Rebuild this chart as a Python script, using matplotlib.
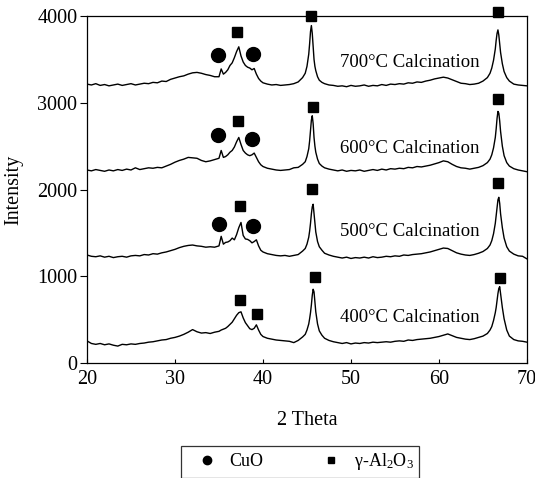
"""
XRD patterns of CuO / gamma-Al2O3 catalysts calcined at 400-700 C.
"""

import matplotlib
matplotlib.use("Agg")
import matplotlib.pyplot as plt
from matplotlib.lines import Line2D


# =============================================================
# Data
# =============================================================
two_theta = (
    [20.0, 20.5, 21.0, 21.5, 22.0, 22.5, 23.0, 23.5, 24.0, 24.5,
     25.0, 25.5, 26.0, 26.5, 27.0, 27.5, 28.0, 28.5, 29.0, 29.5,
     30.0, 30.5, 31.0, 31.5, 32.0, 32.5, 33.0, 33.5, 34.0, 34.5]
    + [35.0, 35.25, 35.5, 35.75, 36.0, 36.25, 36.5, 36.75, 37.0, 37.25,
       37.5, 37.75, 38.0, 38.25, 38.5, 38.75, 39.0, 39.25, 39.5, 39.75, 40.0]
    + [40.5, 41.0, 41.5, 42.0, 42.5, 43.0, 43.5, 44.0, 44.5]
    + [44.8, 45.0, 45.2, 45.3, 45.4, 45.5, 45.6, 45.7, 45.8, 45.9,
       46.0, 46.2, 46.4, 46.7, 47.0, 47.5]
    + [48.0, 48.5, 49.0, 49.5, 50.0, 50.5, 51.0, 51.5, 52.0, 52.5,
       53.0, 53.5, 54.0, 54.5, 55.0, 55.5, 56.0, 56.5, 57.0, 57.5,
       58.0, 58.5, 59.0, 59.5, 60.0, 60.5, 61.0, 61.5, 62.0, 62.5,
       63.0, 63.5, 64.0, 64.5, 65.0]
    + [65.5, 65.8, 66.0, 66.2, 66.4, 66.5, 66.6, 66.7, 66.8, 66.9,
       67.0, 67.2, 67.4, 67.7, 68.0, 68.5, 69.0, 69.5, 70.0]
)

int_700 = (
    [3215, 3205, 3220, 3200, 3210, 3195, 3205, 3215, 3200, 3210,
     3220, 3205, 3215, 3225, 3220, 3235, 3230, 3250, 3245, 3270,
     3285, 3300, 3310, 3330, 3345, 3350, 3340, 3325, 3315, 3300]
    + [3300, 3390, 3330, 3350, 3380, 3430, 3460, 3520, 3590, 3645,
       3540, 3470, 3430, 3410, 3400, 3380, 3395, 3330, 3280, 3250, 3230]
    + [3215, 3205, 3210, 3200, 3205, 3210, 3220, 3240, 3290]
    + [3340, 3420, 3560, 3680, 3820, 3890, 3800, 3640, 3500, 3420,
       3370, 3300, 3260, 3235, 3220, 3205]
    + [3200, 3190, 3195, 3185, 3200, 3190, 3195, 3205, 3190, 3200,
       3195, 3210, 3200, 3215, 3210, 3220, 3215, 3230, 3225, 3240,
       3235, 3250, 3260, 3275, 3285, 3295, 3285, 3265, 3245, 3225,
       3220, 3210, 3215, 3225, 3250]
    + [3290, 3340, 3400, 3490, 3620, 3720, 3800, 3840, 3780, 3680,
       3580, 3450, 3360, 3290, 3250, 3215, 3205, 3200, 3195]
)

int_600 = (
    [2225, 2215, 2230, 2220, 2210, 2225, 2215, 2230, 2220, 2235,
     2225, 2250, 2230, 2240, 2250, 2245, 2255, 2250, 2270, 2290,
     2315, 2335, 2350, 2370, 2365, 2360, 2335, 2320, 2330, 2345]
    + [2360, 2450, 2370, 2380, 2400, 2430, 2450, 2490, 2550, 2600,
       2520, 2450, 2420, 2400, 2390, 2400, 2420, 2370, 2320, 2285, 2265]
    + [2245, 2235, 2225, 2220, 2225, 2230, 2250, 2255, 2290]
    + [2320, 2380, 2470, 2560, 2680, 2800, 2850, 2760, 2600, 2500,
       2430, 2350, 2300, 2270, 2250, 2235]
    + [2225, 2215, 2225, 2210, 2220, 2215, 2225, 2210, 2220, 2230,
       2220, 2235, 2225, 2240, 2235, 2245, 2240, 2255, 2250, 2265,
       2260, 2270, 2280, 2295, 2310, 2330, 2320, 2290, 2265, 2250,
       2245, 2235, 2245, 2255, 2275]
    + [2310, 2350, 2400, 2480, 2600, 2700, 2820, 2900, 2880, 2790,
       2670, 2500, 2390, 2310, 2270, 2240, 2225, 2215, 2205]
)

int_500 = (
    [1245, 1230, 1225, 1235, 1220, 1230, 1215, 1225, 1230, 1220,
     1235, 1240, 1235, 1250, 1245, 1260, 1255, 1270, 1280, 1295,
     1310, 1330, 1345, 1355, 1360, 1350, 1345, 1335, 1340, 1335]
    + [1350, 1460, 1370, 1390, 1395, 1410, 1440, 1420, 1480, 1560,
       1620, 1470, 1430, 1425, 1410, 1385, 1400, 1420, 1350, 1300, 1280]
    + [1260, 1250, 1240, 1235, 1240, 1230, 1240, 1250, 1290]
    + [1320, 1370, 1450, 1520, 1610, 1720, 1800, 1830, 1720, 1600,
       1510, 1400, 1340, 1300, 1265, 1245]
    + [1230, 1220, 1210, 1220, 1205, 1215, 1210, 1220, 1210, 1225,
       1215, 1220, 1230, 1225, 1235, 1230, 1245, 1240, 1250, 1255,
       1260, 1270, 1280, 1295, 1310, 1325, 1320, 1295, 1270, 1255,
       1245, 1240, 1250, 1265, 1285]
    + [1320, 1360, 1410, 1490, 1610, 1700, 1800, 1880, 1910, 1840,
       1720, 1560, 1440, 1340, 1290, 1255, 1235, 1230, 1200]
)

int_400 = (
    [255, 225, 215, 225, 210, 220, 205, 195, 215, 210,
     220, 215, 225, 230, 240, 245, 255, 265, 270, 285,
     295, 310, 330, 355, 385, 360, 345, 350, 340, 355]
    + [365, 380, 390, 400, 420, 445, 470, 510, 550, 580,
       590, 520, 465, 430, 395, 385, 400, 440, 380, 330, 305]
    + [285, 275, 265, 260, 255, 250, 235, 260, 300]
    + [330, 380, 450, 510, 580, 670, 780, 850, 820, 700,
       590, 450, 370, 320, 285, 260]
    + [245, 235, 225, 235, 220, 230, 225, 235, 230, 240,
       235, 240, 245, 240, 250, 255, 250, 265, 260, 270,
       275, 280, 285, 295, 305, 320, 335, 315, 295, 285,
       275, 270, 280, 295, 310]
    + [340, 380, 420, 490, 580, 640, 720, 800, 860, 880,
       800, 640, 510, 380, 310, 270, 255, 250, 240]
)

traces = [int_400, int_500, int_600, int_700]
labels = ["400°C Calcination", "500°C Calcination",
          "600°C Calcination", "700°C Calcination"]
label_y = [526, 1513, 2469, 3463]

# peak markers
cuo_x = [34.9, 38.9, 34.9, 38.8, 35.0, 38.9]
cuo_y = [3550, 3560, 2630, 2585, 1605, 1580]
al2o3_x = [37.1, 45.5, 66.7, 37.2, 45.7, 66.7, 37.4, 45.6, 66.7,
           37.4, 39.3, 45.9, 66.9]
al2o3_y = [3810, 4005, 4045, 2785, 2955, 3045, 1810, 2005, 2070,
           730, 565, 995, 985]


# =============================================================
# Plot
# =============================================================
plt.rcParams["font.family"] = ["Liberation Serif", "DejaVu Serif"]
plt.rcParams["mathtext.fontset"] = "custom"
plt.rcParams["mathtext.rm"] = "Liberation Serif"

fig = plt.figure(figsize=(5.35, 4.78), dpi=100)
ax = fig.add_axes([0.1626, 0.2406, 0.8224, 0.7259])

for y in traces:
    assert len(y) == len(two_theta)
    ax.plot(two_theta, y, color="black", linewidth=1.0)

for txt, ty in zip(labels, label_y):
    ax.text(48.75, ty, txt, fontsize=13.5, va="center", ha="left")

ax.plot(cuo_x, cuo_y, "o", color="black", markersize=10, clip_on=False)
ax.plot(al2o3_x, al2o3_y, "s", color="black", markersize=6.5, clip_on=False)

ax.set_xlim(20, 70)
ax.set_ylim(0, 4000)
ax.set_xticks([20, 30, 40, 50, 60, 70])
ax.set_yticks([0, 1000, 2000, 3000, 4000])
ax.tick_params(axis="x", direction="in", length=3, labelsize=14.5, pad=5)
ax.tick_params(axis="y", direction="out", length=5, labelsize=14.5, pad=2)
for sp in ax.spines.values():
    sp.set_linewidth(0.9)

ax.set_xlabel("2 Theta", fontsize=14.5, labelpad=16)
ax.set_ylabel("Intensity", fontsize=14.5, labelpad=10)

handles = [
    Line2D([], [], marker="o", color="black", linestyle="none", markersize=6),
    Line2D([], [], marker="s", color="black", linestyle="none", markersize=5),
]
leg = fig.legend(handles, ["CuO", r"γ-Al$\mathrm{_2}$O$\mathrm{_3}$"],
                 loc="center", bbox_to_anchor=(300 / 535, 1 - 462 / 478),
                 ncol=2, fontsize=13, frameon=True, fancybox=False,
                 edgecolor="black", handletextpad=0.1, columnspacing=2.6,
                 borderpad=0.3, borderaxespad=0.0, handlelength=2.3)
leg.get_frame().set_linewidth(0.9)

fig.savefig("out.png", dpi=100)
